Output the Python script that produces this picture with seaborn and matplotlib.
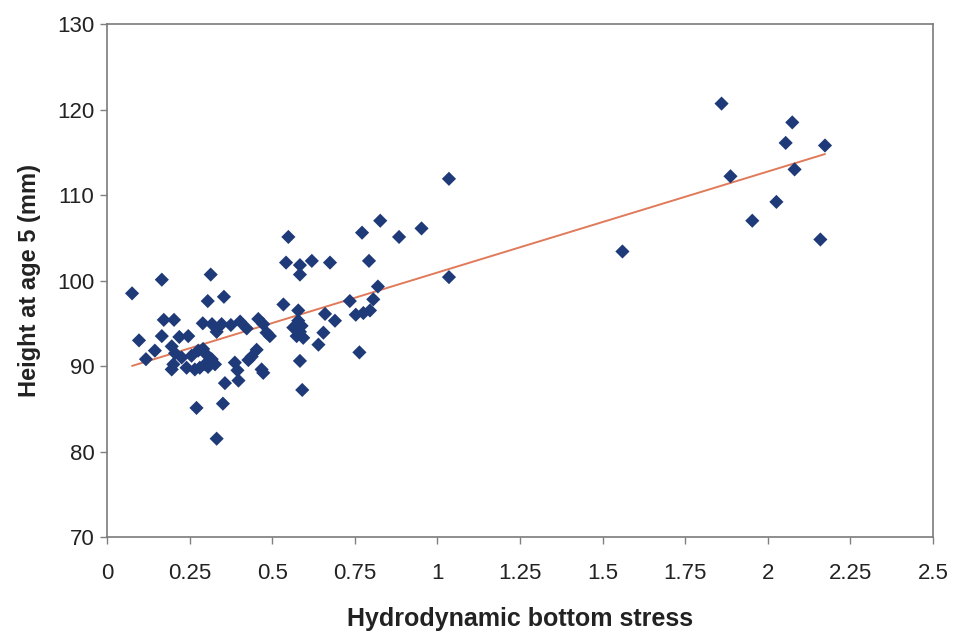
import numpy as np
import pandas as pd
import matplotlib
matplotlib.use("Agg")
import matplotlib.pyplot as plt
import seaborn as sns

# Hydrodynamic bottom stress (x) and height at age 5 in mm (y)
stress = [
    0.076, 0.097, 0.118, 0.145, 0.166, 0.166, 0.172, 0.203,
    0.196, 0.206, 0.219, 0.246, 0.201, 0.196, 0.241, 0.266,
    0.226, 0.256, 0.276, 0.281, 0.297, 0.317, 0.297, 0.327, 0.291, 0.306,
    0.290, 0.318, 0.347, 0.375, 0.403, 0.332, 0.305, 0.354, 0.314,
    0.423, 0.458, 0.473, 0.483, 0.493, 0.453, 0.438, 0.428, 0.468, 0.473,
    0.387, 0.395, 0.398, 0.357, 0.271, 0.351, 0.332,
    0.534, 0.542, 0.549, 0.584, 0.584, 0.620, 0.675, 0.579,
    0.564, 0.579, 0.589, 0.574, 0.594, 0.584,
    0.655, 0.640, 0.584, 0.591, 0.660, 0.690, 0.735,
    0.753, 0.776, 0.796, 0.806, 0.820, 0.764, 0.793, 0.772, 0.827,
    0.884, 0.952, 1.035, 1.035, 1.560,
    1.860, 2.074, 2.054, 2.173, 2.081, 1.887, 2.026, 1.953, 2.159,
]
height = [
    98.5, 93.0, 90.8, 91.8, 100.1, 93.5, 95.4, 95.4,
    92.3, 91.5, 93.4, 93.5, 90.2, 89.6, 89.8, 89.6,
    91.0, 91.2, 91.8, 89.8, 91.5, 90.8, 90.2, 90.2, 92.0, 89.9,
    95.0, 94.9, 94.9, 94.8, 95.2, 94.0, 97.6, 98.1, 100.7,
    94.4, 95.5, 94.9, 93.9, 93.5, 91.9, 91.1, 90.7, 89.6, 89.2,
    90.4, 89.5, 88.3, 88.0, 85.1, 85.6, 81.5,
    97.2, 102.1, 105.1, 101.8, 100.7, 102.3, 102.1, 96.5,
    94.5, 95.3, 94.7, 93.5, 93.3, 94.0,
    93.9, 92.5, 90.6, 87.2, 96.1, 95.3, 97.6,
    96.0, 96.2, 96.5, 97.8, 99.3, 91.6, 102.3, 105.6, 107.0,
    105.1, 106.1, 111.9, 100.4, 103.4,
    120.7, 118.5, 116.1, 115.8, 113.0, 112.2, 109.2, 107.0, 104.8,
]
x_ticks = [0, 0.25, 0.5, 0.75, 1, 1.25, 1.5, 1.75, 2, 2.25, 2.5]
x_tick_labels = ["0", "0.25", "0.5", "0.75", "1", "1.25", "1.5", "1.75", "2", "2.25", "2.5"]
y_ticks = [70, 80, 90, 100, 110, 120, 130]

df = pd.DataFrame({"stress": stress, "height": height})

sns.set_style("ticks")
plt.rcParams["font.family"] = ["Liberation Sans", "DejaVu Sans"]

fig = plt.figure(figsize=(9.61, 6.34), dpi=100)
ax = fig.add_axes([0.1113, 0.153, 0.8596, 0.809])

sns.regplot(data=df, x="stress", y="height", scatter=False, ci=None,
            color="#E07A5A", line_kws={"linewidth": 1.4}, ax=ax)
sns.scatterplot(data=df, x="stress", y="height", marker="D", s=52,
                color="#1F3A78", edgecolor="none", ax=ax, zorder=3)

ax.set_xlim(0, 2.5)
ax.set_ylim(70, 130)
ax.set_xticks(x_ticks)
ax.set_xticklabels(x_tick_labels)
ax.set_yticks(y_ticks)
ax.tick_params(axis="both", labelsize=16, length=5, width=1, color="#808080",
               direction="out", labelcolor="#222222")
ax.tick_params(axis="x", pad=14)
ax.tick_params(axis="y", pad=4)
for side in ["left", "right", "top", "bottom"]:
    ax.spines[side].set_visible(True)
    ax.spines[side].set_color("#7A7A7A")
    ax.spines[side].set_linewidth(1.2)

ax.set_xlabel("Hydrodynamic bottom stress", fontsize=18, fontweight="bold",
              color="#222222", labelpad=16)
ax.set_ylabel("Height at age 5 (mm)", fontsize=17, fontweight="bold",
              color="#222222", labelpad=12)

fig.savefig("out.png", dpi=100)
